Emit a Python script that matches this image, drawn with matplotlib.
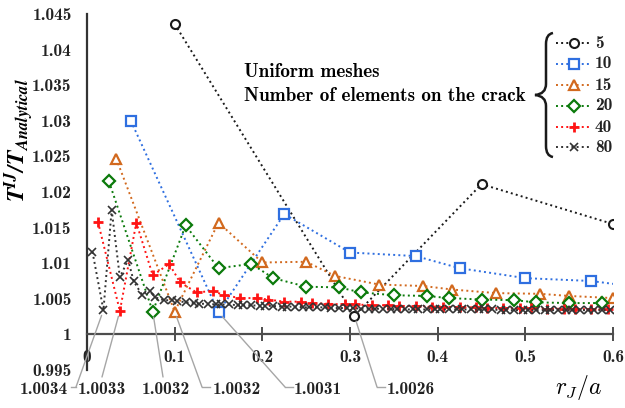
import matplotlib
matplotlib.use("Agg")
import matplotlib.pyplot as plt
from matplotlib.lines import Line2D
from matplotlib.path import Path
from matplotlib.patches import PathPatch
from matplotlib.ticker import FuncFormatter, MultipleLocator
from matplotlib.transforms import Affine2D

# J-integral ratio against r_J/a for uniform meshes (number of elements on the crack)
x5 = [0.1, 0.305, 0.45, 0.6]
y5 = [1.0436, 1.0026, 1.0211, 1.0155]

x10 = [0.05, 0.15, 0.225, 0.3, 0.375, 0.425, 0.5, 0.575, 0.6]
y10 = [1.0300, 1.0031, 1.0169, 1.0115, 1.0110, 1.0093, 1.0079, 1.0075, 1.0071]

x15 = [0.0333, 0.1, 0.15, 0.2, 0.25, 0.2833, 0.3333, 0.3833, 0.4167, 0.4667,
       0.5167, 0.55, 0.6]
y15 = [1.0247, 1.0032, 1.0157, 1.0101, 1.0102, 1.0082, 1.0070, 1.0068, 1.0063,
       1.0058, 1.0057, 1.0054, 1.0051]

x20 = [0.025, 0.075, 0.1125, 0.15, 0.1875, 0.2125, 0.25, 0.2875, 0.3125, 0.35,
       0.3875, 0.4125, 0.45, 0.4875, 0.5125, 0.55, 0.5875]
y20 = [1.0215, 1.0032, 1.0153, 1.0093, 1.0099, 1.0079, 1.0067, 1.0066, 1.0059,
       1.0055, 1.0054, 1.0051, 1.0049, 1.0048, 1.0045, 1.0044, 1.0044]

x40 = [0.0125, 0.0375, 0.05625, 0.075, 0.09375, 0.10625, 0.125, 0.14375, 0.15625,
       0.175, 0.19375, 0.20625, 0.225, 0.24375, 0.25625, 0.275, 0.29375, 0.30625,
       0.325, 0.34375, 0.35625, 0.375, 0.39375, 0.40625, 0.425, 0.44375, 0.45625,
       0.475, 0.49375, 0.50625, 0.525, 0.54375, 0.55625, 0.575, 0.59375]
y40 = [1.0158, 1.0033, 1.0157, 1.0083, 1.0099, 1.0073, 1.0059, 1.0061, 1.0055,
       1.0051, 1.0051, 1.0049, 1.0046, 1.0046, 1.0044, 1.0043, 1.0042, 1.0042,
       1.0041, 1.0041, 1.0040, 1.0040, 1.0039, 1.0039, 1.0038, 1.0038, 1.0037,
       1.0037, 1.0037, 1.0037, 1.0036, 1.0036, 1.0036, 1.0035, 1.0035]

x80 = [0.00625, 0.01875, 0.028125, 0.0375, 0.046875, 0.053125, 0.0625, 0.071875,
       0.078125, 0.0875, 0.096875, 0.103125, 0.1125, 0.121875, 0.128125, 0.1375,
       0.146875, 0.153125, 0.1625, 0.171875, 0.178125, 0.1875, 0.196875, 0.203125,
       0.2125, 0.221875, 0.228125, 0.2375, 0.246875, 0.253125, 0.2625, 0.271875,
       0.278125, 0.2875, 0.296875, 0.303125, 0.3125, 0.321875, 0.328125, 0.3375,
       0.346875, 0.353125, 0.3625, 0.371875, 0.378125, 0.3875, 0.396875, 0.403125,
       0.4125, 0.421875, 0.428125, 0.4375, 0.446875, 0.453125, 0.4625, 0.471875,
       0.478125, 0.4875, 0.496875, 0.503125, 0.5125, 0.521875, 0.528125, 0.5375,
       0.546875, 0.553125, 0.5625, 0.571875, 0.578125, 0.5875, 0.596875]
y80 = [1.0116, 1.0034, 1.0175, 1.0080, 1.0105, 1.0075, 1.0056, 1.0061,
       1.0052, 1.0048, 1.0048, 1.0047, 1.0045, 1.0044, 1.0043, 1.0043,
       1.0042, 1.0042, 1.0042, 1.0041, 1.0041, 1.0041, 1.0040, 1.0040,
       1.0040, 1.0039, 1.0039, 1.0039, 1.0038, 1.0038, 1.0038, 1.0038,
       1.0037, 1.0037, 1.0037, 1.0037, 1.0036, 1.0036, 1.0036, 1.0036,
       1.0036, 1.0035, 1.0035, 1.0035, 1.0035, 1.0035, 1.0035, 1.0035,
       1.0035, 1.0035, 1.0035, 1.0035, 1.0035, 1.0035, 1.0035, 1.0034,
       1.0034, 1.0034, 1.0034, 1.0034, 1.0034, 1.0034, 1.0034, 1.0034,
       1.0034, 1.0034, 1.0034, 1.0034, 1.0034, 1.0034, 1.0034]

series = [
    # label, x, y, colour, marker, size, edge width
    ("5", x5, y5, "#1a1a1a", "o", 6.5, 1.5),
    ("10", x10, y10, "#2f6fe0", "s", 7.0, 1.6),
    ("15", x15, y15, "#d2691e", "^", 7.5, 1.6),
    ("20", x20, y20, "#0b7a0b", "D", 6.0, 1.6),
    ("40", x40, y40, "#ff1414", "+", 7.5, 2.0),
    ("80", x80, y80, "#333333", "x", 6.0, 1.2),
]

W, H, DPI = 625, 408, 100
FONT = ["cmb10", "DejaVu Serif"]
GRAY = "#a6a6a6"
AXC = "#4d4d4d"
TXT = "#222222"

plt.rcParams["font.family"] = FONT
plt.rcParams["mathtext.fontset"] = "cm"

fig = plt.figure(figsize=(W / DPI, H / DPI), dpi=DPI)
# image-pixel coordinates (origin top-left) for annotations outside the axes
IMG = Affine2D().scale(1, -1).translate(0, H).scale(1 / DPI) + fig.dpi_scale_trans

ax = fig.add_axes([87 / W, (H - 370) / H, (613 - 87) / W, (370 - 14) / H])
ax.set_xlim(0, 0.6)
ax.set_ylim(0.995, 1.045)


def marker_kw(name, col, mk, ms, mew):
    if name == "40":
        return dict(marker="+", ms=ms, mew=mew, mec=col)
    return dict(marker=mk, ms=ms, mew=mew, mec=col, mfc="white")


for name, xs, ys, col, mk, ms, mew in series:
    kw = dict(color=col, ls=":", lw=1.4, zorder=3, **marker_kw(name, col, mk, ms, mew))
    if name == "10":
        # last point of the 10-element mesh carries no marker
        kw["markevery"] = slice(0, len(xs) - 1)
    ax.plot(xs, ys, **kw)

# axes styling: x axis sits on y = 1
for s in ("top", "right"):
    ax.spines[s].set_visible(False)
ax.spines["bottom"].set_position(("data", 1.0))
ax.spines["bottom"].set_color(AXC)
ax.spines["bottom"].set_linewidth(1.6)
ax.spines["left"].set_color("#333333")
ax.spines["left"].set_linewidth(1.6)
ax.xaxis.set_major_locator(MultipleLocator(0.1))
ax.yaxis.set_major_locator(MultipleLocator(0.005))
fmt = FuncFormatter(lambda v, p: f"{v:.4g}" if abs(v) > 1e-9 else "0")
ax.xaxis.set_major_formatter(fmt)
ax.yaxis.set_major_formatter(fmt)
ax.tick_params(axis="x", direction="inout", length=10, width=1.4, color=AXC,
               pad=6, labelsize=12.5, labelcolor=TXT)
ax.tick_params(axis="y", length=0, pad=11, labelsize=12.5, labelcolor=TXT)

fig.text(19, 140, r"$\mathbfit{T^{IJ}/T_{Analytical}}$", transform=IMG, fontsize=17,
         math_fontfamily="stix", rotation=90, ha="center", va="center")
fig.text(578, 388, r"$r_J/a$", transform=IMG, fontsize=17, ha="center", va="center")

# descriptive text and curly brace before the legend entries
fig.text(244, 72, "Uniform meshes", transform=IMG, fontsize=13.8, va="center")
fig.text(244, 96, "Number of elements on the crack", transform=IMG, fontsize=13.8,
         va="center")
brace = Path(
    [(553, 33), (546, 34), (546, 44), (546, 84), (546, 94), (535, 95),
     (546, 96), (546, 106), (546, 146), (546, 156), (553, 157)],
    [Path.MOVETO, Path.CURVE3, Path.CURVE3, Path.LINETO, Path.CURVE3, Path.CURVE3,
     Path.CURVE3, Path.CURVE3, Path.LINETO, Path.CURVE3, Path.CURVE3])
fig.add_artist(PathPatch(brace, transform=IMG, fill=False, lw=1.8, ec="#1a1a1a"))

leg_y = [43, 64, 85, 106, 127, 147]
for (name, xs, ys, col, mk, ms, mew), yy in zip(series, leg_y):
    fig.add_artist(Line2D([556, 592], [yy, yy], transform=IMG, color=col, ls=":", lw=1.4))
    fig.add_artist(Line2D([574], [yy], transform=IMG, ls="none",
                          **marker_kw(name, col, mk, ms, mew)))
    fig.text(595, yy, name, transform=IMG, fontsize=12.5, va="center", color=TXT)

# callouts for the minimum value of each series
callouts = [
    # x data, y data, elbow (px), leader end (px), text anchor (px), ha
    (x80, y80, (76, 387), (71, 387), (68, 390), "right"),
    (x40, y40, (102, 377), None, (78, 390), "left"),
    (x20, y20, (163, 377), None, (142, 390), "left"),
    (x15, y15, (202, 387), (210, 387), (213, 390), "left"),
    (x10, y10, (285, 387), (293, 387), (294, 390), "left"),
    (x5, y5, (377, 387), (385, 387), (387, 390), "left"),
]
for xs, ys, elbow, lead, txt, ha in callouts:
    i = ys.index(min(ys))
    ax.annotate("", xy=(xs[i], ys[i]), xycoords="data", xytext=elbow, textcoords=IMG,
                arrowprops=dict(arrowstyle="-", color=GRAY, lw=1.0, shrinkA=0, shrinkB=4),
                annotation_clip=False)
    if lead is not None:
        fig.add_artist(Line2D([elbow[0], lead[0]], [elbow[1], lead[1]], transform=IMG,
                              color=GRAY, lw=1.0))
    fig.text(txt[0], txt[1], f"{ys[i]:.4f}", transform=IMG, fontsize=12.5, ha=ha,
             va="center", color=TXT)

fig.savefig("out.png", dpi=DPI, facecolor="white")
